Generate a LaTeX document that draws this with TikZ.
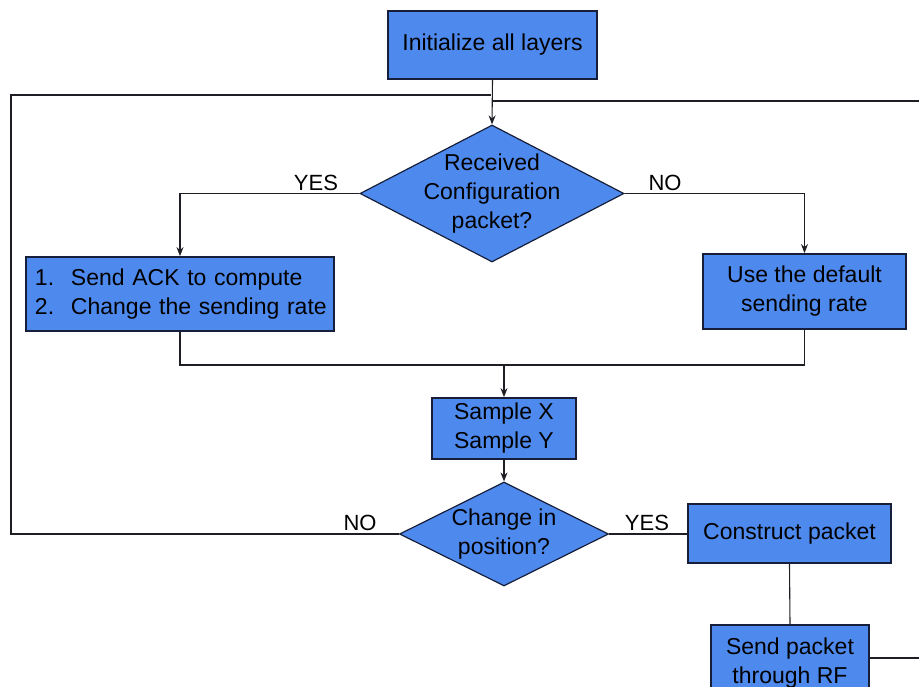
\documentclass[tikz,border=0pt]{standalone}
\usepackage{fontspec}
\setmainfont{Liberation Sans}
\usetikzlibrary{shapes.geometric,arrows.meta}
\definecolor{boxfill}{RGB}{78,138,238}
\definecolor{boxline}{RGB}{22,30,58}
\definecolor{wire}{RGB}{30,30,36}
\begin{document}
\begin{tikzpicture}[x=1pt,y=-1pt,
  every node/.style={font=\fontsize{23}{29}\selectfont},
  stepbox/.style={draw=boxline,line width=1.8pt,fill=boxfill,inner sep=0pt,align=center},
  decision/.style={draw=boxline,line width=1.2pt,fill=boxfill,shape=diamond,inner sep=0pt},
  wireline/.style={draw=wire,line width=1.1pt},
  arr/.style={wireline,-{Stealth[length=9pt,width=7pt]}},
  tag/.style={font=\fontsize{22}{24}\selectfont,inner sep=0pt}]
\useasboundingbox (0,0) rectangle (919,686);

% process boxes
\node[stepbox,minimum width=209pt,minimum height=68pt] (init) at (492.5,45) {Initialize all layers};
\node[stepbox,minimum height=74pt,text width=308pt,align=left] (ack) at (180,294)
  {\hspace*{9pt}\makebox[36pt][l]{1.}Send ACK to compute\\\hspace*{9pt}\makebox[36pt][l]{2.}Change the sending rate};
\node[stepbox,minimum width=203pt,minimum height=75pt] (dflt) at (804.5,291.5) {Use the default\\sending rate};
\node[stepbox,minimum width=144pt,minimum height=61pt] (sample) at (504,428.5) {Sample X\\Sample Y};
\node[stepbox,minimum width=203pt,minimum height=59pt] (build) at (789.5,533.5) {Construct packet};
\node[stepbox,minimum width=158pt,minimum height=76pt] (send) at (790,663) {Send packet\\through RF};

% decisions
\node[decision,minimum width=264pt,minimum height=137pt,
  label={[align=center]center:Received\\Configuration\\packet?}] (cfg) at (492,193.5) {};
\node[decision,minimum width=209pt,minimum height=104pt,
  label={[align=center]center:Change in\\position?}] (moved) at (504,534) {};

% loop-back rails
\coordinate (railL) at (11,95);
\coordinate (joinL) at (491,95);
\coordinate (railR) at (919,101);
\coordinate (joinR) at (492,101);
\coordinate (merge) at (504,365);
\coordinate (outR) at (919,658);

% connectors
\draw[arr] (init.south) -- (cfg.north);
\draw[wireline] (railR) -- (joinR);
\draw[wireline] (moved.west) -- (moved.west -| railL) -- (railL) -- (joinL);
\draw[arr] (cfg.west) -| (ack.north);
\draw[arr] (cfg.east) -| (dflt.north);
\draw[wireline] (ack.south) |- (merge) -| (dflt.south);
\draw[arr] (merge) -- (sample.north);
\draw[arr] (sample.south) -- (moved.north);
\draw[wireline] (moved.east) -- (moved.east -| build.west);
\draw[wireline] (build.south) -- (send.north);
\draw[wireline] (send.east |- outR) -- (outR);

% branch tags
\node[tag] (yes1) at (316,183) {YES};
\node[tag] (no1) at (665,183) {NO};
\node[tag] (no2) at (360,523) {NO};
\node[tag] (yes2) at (647,523) {YES};
\end{tikzpicture}
\end{document}
